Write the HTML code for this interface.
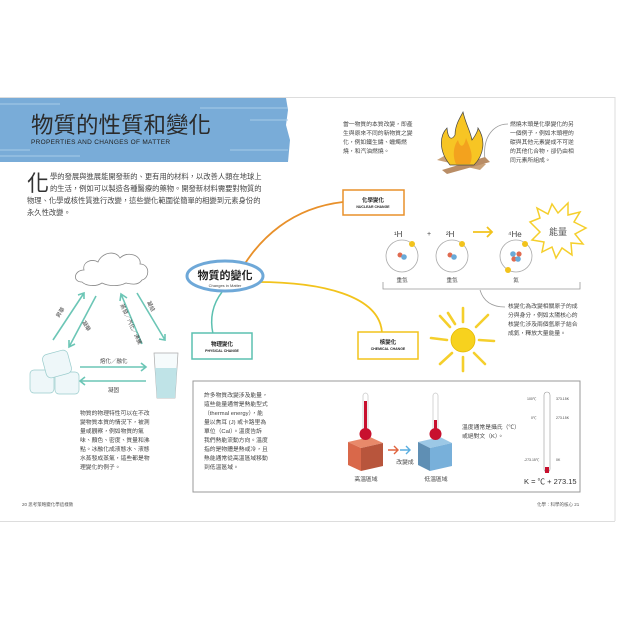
<!DOCTYPE html>
<html><head><meta charset="utf-8"><style>
html,body{margin:0;padding:0;background:#fff;}
svg{display:block}
text{font-family:"Liberation Sans","Noto Sans CJK TC",sans-serif;fill:#444}
</style></head><body>
<svg width="620" height="620" viewBox="0 0 620 620" xmlns="http://www.w3.org/2000/svg">
<rect width="620" height="620" fill="#fff"/>
<line x1="0" y1="97.5" x2="615" y2="97.5" stroke="#ddd"/>
<line x1="615" y1="97" x2="615" y2="521" stroke="#ddd"/>
<line x1="0" y1="521.5" x2="615" y2="521.5" stroke="#ddd"/>
<path d="M0 98 L286 98 L288 110 L286 125 L290 140 L288 162 L0 162Z" fill="#79acd8"/>
<g stroke="#a8cbe9" stroke-width="1">
<line x1="0" y1="104" x2="60" y2="104"/><line x1="200" y1="108" x2="288" y2="108"/>
<line x1="0" y1="150" x2="30" y2="150"/><line x1="230" y1="150" x2="288" y2="150"/>
<line x1="0" y1="156" x2="80" y2="156"/><line x1="250" y1="120" x2="288" y2="120"/>
</g>
<text x="31" y="133" font-size="22.5" style="fill:#2b2b2b">物質的性質和變化</text>
<text x="31" y="144" font-size="6.5" style="fill:#222" letter-spacing="0.3">PROPERTIES AND CHANGES OF MATTER</text>
<text x="27" y="191" font-size="22" style="fill:#333">化</text>
<g font-size="7.3" style="fill:#444">
<text x="50" y="179">學的發展與進展能開發新的、更有用的材料，以改善人類在地球上</text>
<text x="50" y="191">的生活，例如可以製造各種醫療的藥物。開發新材料需要對物質的</text>
<text x="27" y="203">物理、化學或核性質進行改變，這些變化範圍從簡單的相變到元素身份的</text>
<text x="27" y="215">永久性改變。</text>
</g>
<path d="M244 265 C260 240 290 208 343 202" fill="none" stroke="#e8902a" stroke-width="1.8"/>
<path d="M257 282 C320 282 380 295 382 333" fill="none" stroke="#f2c31c" stroke-width="1.8"/>
<path d="M222 292 C212 305 210 320 213 334" fill="none" stroke="#5cc0b0" stroke-width="1.5"/>
<ellipse cx="225" cy="276" rx="38" ry="15" fill="#fff" stroke="#6ea8d8" stroke-width="3"/>
<text x="225" y="279" font-size="11" text-anchor="middle" style="fill:#222;font-weight:bold">物質的變化</text>
<text x="225" y="287" font-size="4" text-anchor="middle">Changes in Matter</text>
<rect x="343" y="190" width="61" height="25" fill="#fff" stroke="#e8902a" stroke-width="1.5"/>
<text x="373" y="202" font-size="5.5" text-anchor="middle" style="fill:#222;font-weight:bold">化學變化</text>
<text x="373" y="208" font-size="3.5" text-anchor="middle" style="fill:#222;font-weight:bold">NUCLEAR CHANGE</text>
<rect x="192" y="333" width="60" height="26" fill="#fff" stroke="#5cc0b0" stroke-width="1.5"/>
<text x="222" y="346" font-size="5.5" text-anchor="middle" style="fill:#222;font-weight:bold">物理變化</text>
<text x="222" y="352" font-size="3.5" text-anchor="middle" style="fill:#222;font-weight:bold">PHYSICAL CHANGE</text>
<rect x="358" y="332" width="60" height="27" fill="#fff" stroke="#f2c31c" stroke-width="1.5"/>
<text x="388" y="344" font-size="5.5" text-anchor="middle" style="fill:#222;font-weight:bold">核變化</text>
<text x="388" y="350" font-size="3.5" text-anchor="middle" style="fill:#222;font-weight:bold">CHEMICAL CHANGE</text>
<g font-size="5.8">
<text x="343" y="126">當一物質的本質改變，即產</text>
<text x="343" y="135">生與原來不同的新物質之變</text>
<text x="343" y="144">化，例如鐵生鏽、蠟燭燃</text>
<text x="343" y="153">燒，和汽油燃燒。</text>
<text x="510" y="126">燃燒木頭是化學變化的另</text>
<text x="510" y="135">一個例子，例如木頭裡的</text>
<text x="510" y="144">碳與其他元素變成不可逆</text>
<text x="510" y="153">的其他化合物，卻仍由相</text>
<text x="510" y="162">同元素所組成。</text>
</g>
<path d="M508 124 C495 124 482 135 485 160" fill="none" stroke="#999" stroke-width="0.8"/>
<path d="M437 160 L480 170 L486 164 L444 156Z" fill="#c9a27a"/>
<path d="M442 170 L485 157 L490 162 L447 174Z" fill="#b98d66"/>
<path d="M450 165 C438 150 440 135 447 128 C448 140 452 140 455 135 C455 125 460 118 463 112 C466 125 470 130 472 140 C476 135 478 130 478 128 C486 140 484 155 474 165Z" fill="#f7c524" stroke="#444" stroke-width="0.7"/>
<path d="M456 164 C452 155 454 145 458 140 C460 148 464 148 466 138 C470 148 474 155 470 164Z" fill="#f3a21e"/>
<g font-size="8" style="fill:#333">
<text x="394" y="237">¹H</text><text x="427" y="236" font-size="7">+</text>
<text x="446" y="237">²H</text><text x="508" y="237">⁴He</text>
</g>
<path d="M473 232 L492 232 M487 227 L492 232 L487 237" fill="none" stroke="#f2c31c" stroke-width="1.8"/>
<g fill="none" stroke="#aaa" stroke-width="0.8">
<circle cx="402" cy="256" r="16"/><circle cx="452" cy="256" r="16"/><circle cx="516" cy="256" r="16"/>
</g>
<g>
<circle cx="412" cy="244" r="3" fill="#f2c31c"/><circle cx="462" cy="244" r="3" fill="#f2c31c"/>
<circle cx="525" cy="244" r="3" fill="#f2c31c"/><circle cx="508" cy="270" r="3" fill="#f2c31c"/>
<circle cx="400" cy="255" r="2.5" fill="#e06a50"/><circle cx="404" cy="257" r="2.8" fill="#6aaad8"/>
<circle cx="450" cy="255" r="2.5" fill="#e06a50"/><circle cx="454" cy="257" r="2.8" fill="#6aaad8"/>
<circle cx="513" cy="254" r="2.8" fill="#6aaad8"/><circle cx="519" cy="254" r="2.6" fill="#e06a50"/>
<circle cx="514" cy="259" r="2.6" fill="#e06a50"/><circle cx="518" cy="259" r="2.8" fill="#6aaad8"/>
</g>
<g font-size="5.5" text-anchor="middle"><text x="402" y="282">重氫</text><text x="452" y="282">重氫</text><text x="516" y="282">氦</text></g>
<path d="M383 282 L383 289 L580 289 L580 282" fill="none" stroke="#999" stroke-width="0.8"/>
<path d="M480 290 C483 300 490 307 505 307" fill="none" stroke="#999" stroke-width="0.8"/>
<polygon points="530,222 540,218 537,208 548,214 552,204 558,213 568,203 568,215 580,212 574,222 586,228 575,234 583,244 571,243 572,255 562,248 556,258 552,247 542,252 544,242 532,240 540,232" fill="#fff" stroke="#f5cf2c" stroke-width="1.5"/>
<text x="549" y="235" font-size="9" style="fill:#555">能量</text>
<g font-size="5.8">
<text x="508" y="308">核變化為改變相關原子的成</text>
<text x="508" y="317">分與身分，例如太陽核心的</text>
<text x="508" y="326">核變化涉及兩個氫原子結合</text>
<text x="508" y="335">成氦，釋放大量能量。</text>
</g>
<g stroke="#f5cf2c" stroke-width="2.6" stroke-linecap="round">
<line x1="463" y1="322" x2="463" y2="308"/><line x1="450" y1="327" x2="440" y2="316"/>
<line x1="476" y1="327" x2="488" y2="315"/><line x1="447" y1="340" x2="431" y2="338"/>
<line x1="479" y1="340" x2="494" y2="341"/><line x1="452" y1="353" x2="440" y2="364"/>
<line x1="474" y1="353" x2="485" y2="364"/><line x1="463" y1="357" x2="463" y2="371"/>
<line x1="455" y1="324" x2="448" y2="313"/>
</g>
<circle cx="463" cy="340" r="12" fill="#f7d21e" stroke="#e5b800" stroke-width="0.8"/>
<path d="M82 282 C72 282 74 270 84 270 C82 262 92 258 98 262 C102 252 116 250 120 258 C128 250 142 256 140 264 C150 264 150 278 142 280 C138 286 130 284 126 283 C118 287 108 286 102 283 C96 287 86 286 82 282Z" fill="#fff" stroke="#888" stroke-width="0.8"/>
<g stroke="#6cc6b6" stroke-width="1.6" fill="none">
<path d="M53 340 L84 293 M78 295 L84 293 L84 299"/>
<path d="M96 296 L69 347 M69 340 L69 347 L75 344"/>
<path d="M142 344 L121 294 M120 301 L121 294 L127 298"/>
<path d="M137 293 L165 340 M159 339 L165 340 L165 334"/>
<path d="M80 367 L146 367 M141 363 L146 367 L141 371"/>
<path d="M146 381 L80 381 M85 377 L80 381 L85 385"/>
</g>
<g font-size="5.5" style="fill:#333">
<text x="59" y="318" transform="rotate(-58 59 318)">昇華</text>
<text x="82" y="322" transform="rotate(60 82 322)">凝華</text>
<text x="120" y="305" transform="rotate(65 120 305)">蒸發／汽化／沸騰</text>
<text x="147" y="302" transform="rotate(65 147 302)">凝結</text>
<text x="100" y="363">熔化／融化</text>
<text x="108" y="392">凝固</text>
</g>
<g fill="#eef7f9" stroke="#9cc" stroke-width="0.7">
<rect x="30" y="370" width="24" height="23" rx="4"/>
<rect x="55" y="372" width="24" height="22" rx="4"/>
<rect x="44" y="352" width="26" height="24" rx="5" transform="rotate(-15 57 364)"/>
</g>
<path d="M154 353 L178 353 L175 398 L157 398Z" fill="#f6fbfc" stroke="#aaa" stroke-width="0.7"/>
<path d="M155 368 L177 368 L175 398 L157 398Z" fill="#bfe3e7"/>
<g font-size="5.8">
<text x="80" y="415">物質的物理特性可以在不改</text>
<text x="80" y="424">變物質本質的情況下，被測</text>
<text x="80" y="433">量或觀察，例如物質的氣</text>
<text x="80" y="442">味、顏色、密度、質量和沸</text>
<text x="80" y="451">點。冰融化成液態水、液態</text>
<text x="80" y="460">水蒸發成蒸氣，這些都是物</text>
<text x="80" y="469">理變化的例子。</text>
</g>
<rect x="193" y="381" width="387" height="111" fill="#fff" stroke="#999" stroke-width="1"/>
<g font-size="5.8">
<text x="204" y="397">許多物質改變涉及能量，</text>
<text x="204" y="406">這些能量通常是熱能型式</text>
<text x="204" y="415">（thermal energy），能</text>
<text x="204" y="424">量以焦耳 (J) 或卡路里為</text>
<text x="204" y="433">單位（Cal）。溫度告訴</text>
<text x="204" y="442">我們熱能流動方向。溫度</text>
<text x="204" y="451">指的是物體是熱或冷，且</text>
<text x="204" y="460">熱能通常從高溫區域移動</text>
<text x="204" y="469">到低溫區域。</text>
<text x="462" y="429">溫度通常是攝氏（℃）</text>
<text x="462" y="438">或絕對文（K）。</text>
</g>
<!-- red cube -->
<path d="M348 442 L370 437 L383 443 L361 448Z" fill="#e8896a"/>
<path d="M348 442 L361 448 L361 471 L348 465Z" fill="#d9684a"/>
<path d="M361 448 L383 443 L383 466 L361 471Z" fill="#b8553c"/>
<rect x="363" y="393" width="5" height="40" rx="2.5" fill="#fff" stroke="#aaa" stroke-width="0.5"/>
<rect x="364" y="401" width="3" height="32" fill="#c8102e"/>
<circle cx="365.5" cy="434" r="6" fill="#c8102e"/>
<!-- blue cube -->
<path d="M418 442 L440 437 L452 443 L430 448Z" fill="#9cc8e6"/>
<path d="M418 442 L430 448 L430 471 L418 465Z" fill="#5f8fb4"/>
<path d="M430 448 L452 443 L452 466 L430 471Z" fill="#78b0da"/>
<rect x="433" y="393" width="5" height="40" rx="2.5" fill="#fff" stroke="#aaa" stroke-width="0.5"/>
<rect x="434" y="420" width="3" height="13" fill="#c8102e"/>
<circle cx="435.5" cy="434" r="6" fill="#c8102e"/>
<path d="M388 450 L398 450 M394 446 L398 450 L394 454" fill="none" stroke="#e0643f" stroke-width="1.4"/>
<path d="M400 450 L410 450 M406 446 L410 450 L406 454" fill="none" stroke="#5aaee0" stroke-width="1.4"/>
<g font-size="5.8" text-anchor="middle" style="fill:#333">
<text x="405" y="464">改變成</text><text x="366" y="481">高溫區域</text><text x="436" y="481">低溫區域</text>
</g>
<rect x="544" y="392" width="6" height="80" rx="3" fill="#fff" stroke="#999" stroke-width="0.6"/>
<rect x="545" y="467" width="4" height="6" fill="#c8102e"/>
<g font-size="3.5" style="fill:#555">
<text x="527" y="400">100℃</text><text x="556" y="400">373.15K</text>
<text x="531" y="419">0℃</text><text x="556" y="419">273.15K</text>
<text x="524" y="461">-273.15℃</text><text x="556" y="461">0K</text>
</g>
<text x="524" y="484" font-size="7.5" style="fill:#333">K = ℃ + 273.15</text>
<text x="22" y="506" font-size="4.5" style="fill:#555">20 思考策略變化學這樣教</text>
<text x="537" y="506" font-size="4.5" style="fill:#555">化學：科學的核心 21</text>
</svg>
</body></html>
